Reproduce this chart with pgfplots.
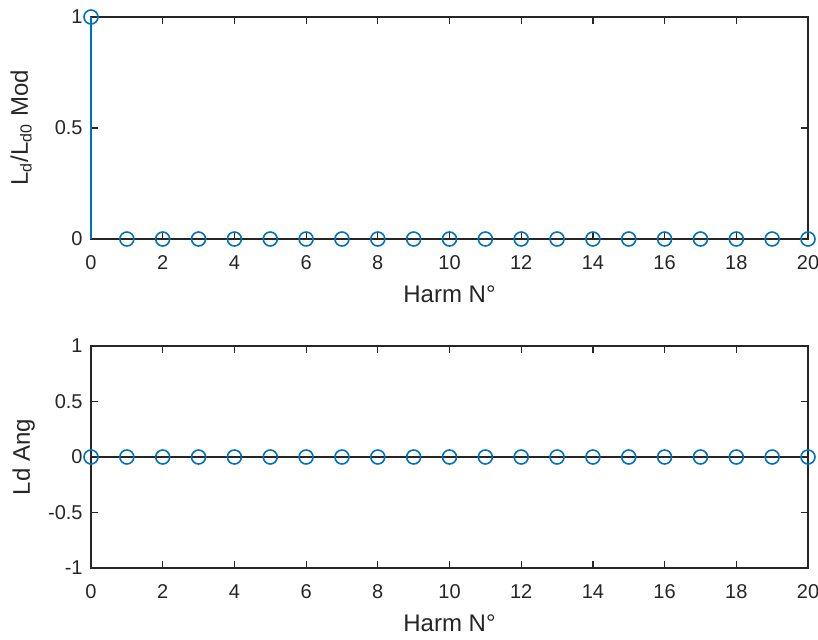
\documentclass[border=0pt]{standalone}
\usepackage{fontspec}
\setmainfont{Liberation Sans}
\usepackage{pgfplots}
\pgfplotsset{compat=1.18}

\definecolor{axgray}{RGB}{38,38,38}
\definecolor{mblue}{RGB}{0,114,189}

\pgfplotsset{
  stemaxis/.style={
    scale only axis, width=358.5pt, height=111pt,
    xmin=0, xmax=20, xtick={0,2,...,20},
    tick align=inside, major tick length=3.5pt,
    axis line style={axgray, line width=0.6pt},
    every tick/.style={axgray, line width=0.6pt},
    tick label style={font=\fontsize{10}{12}\selectfont, text=axgray, inner sep=0pt},
    xticklabel style={yshift=-8pt},
    yticklabel style={xshift=-4pt},
    label style={font=\fontsize{12}{14}\selectfont, text=axgray},
    xlabel style={at={(axis description cs:0.5,-0.2838)}, anchor=base},
    /pgf/number format/assume math mode=true,
    clip=false,
    xlabel={Harm N°},
  },
  stem/.style={ycomb, mblue, line width=0.8pt, mark=o, mark size=3.5pt,
    mark options={mblue, line width=0.8pt}},
}

% harmonic magnitude and angle of Ld
\pgfplotstableread{
n  mod ang
0  1   0
1  0   0
2  0   0
3  0   0
4  0   0
5  0   0
6  0   0
7  0   0
8  0   0
9  0   0
10 0   0
11 0   0
12 0   0
13 0   0
14 0   0
15 0   0
16 0   0
17 0   0
18 0   0
19 0   0
20 0   0
}\ldharm

\begin{document}
\begin{tikzpicture}
\useasboundingbox (0,0) rectangle (409pt,319.5pt);

\begin{axis}[stemaxis, at={(45.5pt,200pt)}, anchor=south west,
  ymin=0, ymax=1, ytick={0,0.5,1},
  ylabel style={at={(axis description cs:-0.0879,0.5)}, anchor=base},
  ylabel={L\textsubscript{d}/L\textsubscript{d0} Mod}]
  \addplot[stem] table[x=n, y=mod] {\ldharm};
\end{axis}

\begin{axis}[stemaxis, at={(45.5pt,35.5pt)}, anchor=south west,
  ymin=-1, ymax=1, ytick={-1,-0.5,0,0.5,1},
  ylabel style={at={(axis description cs:-0.0851,0.5)}, anchor=base},
  ylabel={Ld Ang}]
  \addplot[axgray, line width=0.6pt] coordinates {(0,0) (20,0)};
  \addplot[stem] table[x=n, y=ang] {\ldharm};
\end{axis}
\end{tikzpicture}
\end{document}
